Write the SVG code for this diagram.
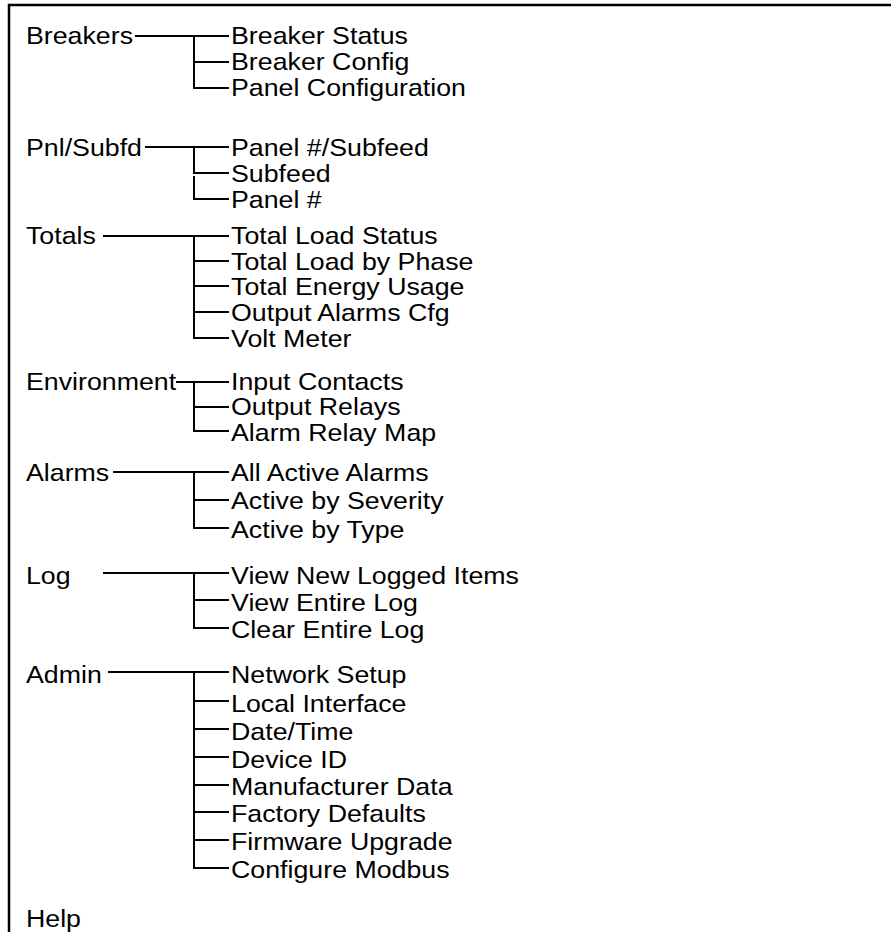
<svg xmlns="http://www.w3.org/2000/svg" width="891" height="932" viewBox="0 0 891 932">
<style>
text{font-family:"Liberation Sans",Arial,sans-serif;font-size:24px;fill:#000}
.c line,.c path{stroke:#000;stroke-width:2;fill:none}
.frame{stroke:#000;stroke-width:2.5;fill:none}
</style>
<rect width="891" height="932" fill="#fff"/>
<path class="frame" d="M9,932 V5 H891"/>
<g class="c" id="connectors">
<line x1="135" y1="36" x2="229" y2="36"/>
<path d="M194,36 V88 H229 M194,62 H229"/>
<line x1="145" y1="147" x2="229" y2="147"/>
<path d="M194,147 V173 H229 M194,176 V199 H229"/>
<line x1="103" y1="236" x2="229" y2="236"/>
<path d="M194,236 V338 H229 M194,261 H229 M194,286 H229 M194,312 H229"/>
<line x1="176" y1="382" x2="229" y2="382"/>
<path d="M194,382 V431 H229 M194,407 H229"/>
<line x1="113" y1="472" x2="229" y2="472"/>
<path d="M194,472 V528 H229 M194,500 H229"/>
<line x1="103" y1="573" x2="229" y2="573"/>
<path d="M194,573 V628 H229 M194,600 H229"/>
<line x1="108" y1="672" x2="229" y2="672"/>
<path d="M194,672 V868 H229 M194,701 H229 M194,729 H229 M194,757 H229 M194,785 H229 M194,812 H229 M194,840 H229"/>
</g>
<g transform="scale(1.115,1)">
<g id="breakers"><text x="23.3" y="44">Breakers</text></g>
<g id="breaker-status"><text x="207.2" y="44">Breaker Status</text></g>
<g id="breaker-config"><text x="207.2" y="70">Breaker Config</text></g>
<g id="panel-configuration"><text x="207.2" y="96">Panel Configuration</text></g>
<g id="pnl-subfd"><text x="23.3" y="156">Pnl/Subfd</text></g>
<g id="panel-subfeed"><text x="207.2" y="156">Panel #/Subfeed</text></g>
<g id="subfeed"><text x="207.2" y="182">Subfeed</text></g>
<g id="panel-num"><text x="207.2" y="208">Panel #</text></g>
<g id="totals"><text x="23.3" y="244">Totals</text></g>
<g id="total-load-status"><text x="207.2" y="244">Total Load Status</text></g>
<g id="total-load-phase"><text x="207.2" y="270">Total Load by Phase</text></g>
<g id="total-energy"><text x="207.2" y="295">Total Energy Usage</text></g>
<g id="output-alarms"><text x="207.2" y="321">Output Alarms Cfg</text></g>
<g id="volt-meter"><text x="207.2" y="347">Volt Meter</text></g>
<g id="environment"><text x="23.3" y="390">Environment</text></g>
<g id="input-contacts"><text x="207.2" y="390">Input Contacts</text></g>
<g id="output-relays"><text x="207.2" y="415">Output Relays</text></g>
<g id="alarm-relay-map"><text x="207.2" y="441">Alarm Relay Map</text></g>
<g id="alarms"><text x="23.3" y="481">Alarms</text></g>
<g id="all-active"><text x="207.2" y="481">All Active Alarms</text></g>
<g id="active-severity"><text x="207.2" y="509">Active by Severity</text></g>
<g id="active-type"><text x="207.2" y="538">Active by Type</text></g>
<g id="log"><text x="23.3" y="584">Log</text></g>
<g id="view-new"><text x="207.2" y="584">View New Logged Items</text></g>
<g id="view-entire"><text x="207.2" y="611">View Entire Log</text></g>
<g id="clear-entire"><text x="207.2" y="638">Clear Entire Log</text></g>
<g id="admin"><text x="23.3" y="683">Admin</text></g>
<g id="network-setup"><text x="207.2" y="683">Network Setup</text></g>
<g id="local-interface"><text x="207.2" y="712">Local Interface</text></g>
<g id="date-time"><text x="207.2" y="740">Date/Time</text></g>
<g id="device-id"><text x="207.2" y="768">Device ID</text></g>
<g id="manufacturer-data"><text x="207.2" y="795">Manufacturer Data</text></g>
<g id="factory-defaults"><text x="207.2" y="822">Factory Defaults</text></g>
<g id="firmware-upgrade"><text x="207.2" y="850">Firmware Upgrade</text></g>
<g id="configure-modbus"><text x="207.2" y="878">Configure Modbus</text></g>
<g id="help"><text x="23.3" y="927">Help</text></g>
</g>
</svg>
